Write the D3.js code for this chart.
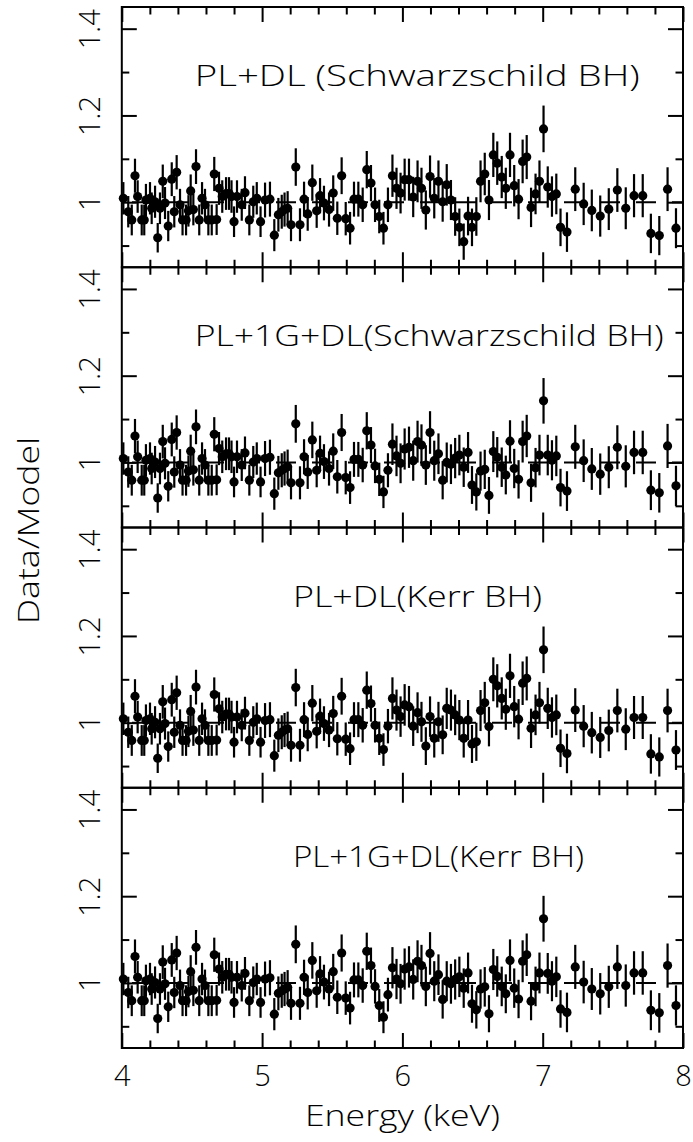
<!DOCTYPE html>
<html>
<head>
<meta charset="utf-8">
<script src="https://cdn.jsdelivr.net/npm/d3@7"></script>
<style>
  html, body { margin: 0; padding: 0; background: #fff; }
  svg { display: block; }
</style>
</head>
<body>
<div id="chart"></div>
<script>
// ---------------- data ----------------
const energy = [
  4.011, 4.046, 4.071, 4.094, 4.113, 4.142, 4.160, 4.172, 4.201, 4.213,
  4.237, 4.256, 4.272, 4.292, 4.308, 4.331, 4.356, 4.374, 4.391, 4.415,
  4.433, 4.458, 4.475, 4.491, 4.510, 4.529, 4.552, 4.572, 4.593, 4.617,
  4.641, 4.659, 4.676, 4.693, 4.716, 4.743, 4.764, 4.782, 4.800, 4.821,
  4.855, 4.878, 4.909, 4.937, 4.962, 4.989, 5.021, 5.056, 5.087, 5.116,
  5.140, 5.160, 5.182, 5.206, 5.240, 5.270, 5.299, 5.325, 5.358, 5.389,
  5.413, 5.441, 5.477, 5.507, 5.536, 5.567, 5.596, 5.627, 5.655, 5.686,
  5.717, 5.746, 5.776, 5.805, 5.835, 5.865, 5.897, 5.929, 5.958, 5.987,
  6.016, 6.047, 6.077, 6.108, 6.136, 6.167, 6.197, 6.227, 6.257, 6.287,
  6.316, 6.346, 6.376, 6.406, 6.437, 6.468, 6.496, 6.527, 6.557, 6.587,
  6.617, 6.648, 6.676, 6.708, 6.737, 6.767, 6.797, 6.828, 6.857, 6.886,
  6.917, 6.949, 6.977, 7.006, 7.036, 7.066, 7.097, 7.127, 7.173, 7.232,
  7.292, 7.350, 7.410, 7.471, 7.532, 7.592, 7.651, 7.713, 7.771, 7.831,
  7.890, 7.950
];

// PL+DL (Schwarzschild BH)
const ratioP1 = [
  1.009, 0.978, 0.959, 1.061, 1.013, 0.959, 0.959, 1.005, 1.009, 0.986,
  1.001, 0.918, 0.986, 1.048, 0.998, 0.945, 1.053, 0.978, 1.069, 0.994,
  0.959, 0.959, 0.980, 1.026, 0.983, 1.082, 0.959, 1.009, 0.994, 0.959,
  0.959, 1.065, 0.960, 1.032, 1.013, 1.020, 1.020, 1.013, 0.955, 1.013,
  0.994, 1.022, 0.959, 1.001, 1.009, 0.955, 1.005, 1.007, 0.924, 0.971,
  0.978, 0.983, 0.986, 0.948, 1.081, 0.948, 1.007, 0.973, 1.045, 0.980,
  1.015, 0.998, 0.983, 1.021, 0.963, 1.061, 0.962, 0.940, 1.007, 1.007,
  0.994, 1.075, 1.044, 0.994, 0.967, 0.940, 0.994, 1.061, 1.032, 1.021,
  1.052, 1.052, 1.012, 1.048, 1.032, 0.982, 1.059, 1.009, 1.048, 1.001,
  1.040, 1.005, 0.967, 0.942, 0.909, 0.968, 0.942, 0.967, 1.048, 1.065,
  1.005, 1.109, 1.090, 1.058, 1.032, 1.109, 1.038, 1.007, 1.094, 1.104,
  0.988, 1.019, 1.048, 1.169, 1.035, 1.013, 1.019, 0.942, 0.931, 1.030,
  0.996, 0.981, 0.968, 0.984, 1.028, 0.986, 1.015, 1.015, 0.928, 0.923,
  1.030, 0.940
];

// PL+1G+DL (Schwarzschild BH)
const ratioP2 = [
  1.009, 0.978, 0.959, 1.061, 1.013, 0.959, 0.959, 1.005, 1.009, 0.986,
  1.001, 0.918, 0.986, 1.048, 0.998, 0.945, 1.053, 0.978, 1.069, 0.994,
  0.959, 0.959, 0.980, 1.026, 0.983, 1.082, 0.959, 1.009, 0.994, 0.959,
  0.959, 1.065, 0.960, 1.032, 1.013, 1.020, 1.020, 1.013, 0.955, 1.013,
  0.994, 1.022, 0.959, 1.001, 1.009, 0.955, 1.009, 1.012, 0.928, 0.976,
  0.982, 0.986, 0.990, 0.953, 1.089, 0.953, 1.013, 0.978, 1.052, 0.982,
  1.021, 1.002, 0.986, 1.026, 0.967, 1.069, 0.965, 0.942, 1.007, 1.007,
  0.994, 1.073, 1.040, 0.992, 0.961, 0.932, 0.982, 1.042, 1.015, 0.998,
  1.031, 1.035, 1.004, 1.048, 1.040, 0.994, 1.069, 1.004, 1.020, 0.959,
  1.000, 0.996, 1.010, 1.017, 0.989, 1.023, 0.948, 0.932, 0.980, 0.984,
  0.924, 1.025, 1.012, 0.989, 0.971, 1.049, 0.986, 0.961, 1.048, 1.061,
  0.953, 0.988, 1.017, 1.142, 1.017, 1.005, 1.015, 0.942, 0.934, 1.036,
  1.004, 0.985, 0.973, 0.989, 1.035, 0.991, 1.023, 1.023, 0.936, 0.930,
  1.038, 0.946
];

// PL+DL (Kerr BH)
const ratioP3 = [
  1.009, 0.978, 0.959, 1.061, 1.013, 0.959, 0.959, 1.005, 1.009, 0.986,
  1.001, 0.918, 0.986, 1.048, 0.998, 0.945, 1.053, 0.978, 1.069, 0.994,
  0.959, 0.959, 0.980, 1.026, 0.983, 1.082, 0.959, 1.009, 0.994, 0.959,
  0.959, 1.065, 0.960, 1.032, 1.013, 1.020, 1.020, 1.013, 0.955, 1.013,
  0.994, 1.022, 0.959, 1.001, 1.009, 0.955, 1.005, 1.007, 0.924, 0.971,
  0.978, 0.983, 0.986, 0.948, 1.081, 0.948, 1.007, 0.973, 1.045, 0.980,
  1.015, 0.998, 0.983, 1.021, 0.963, 1.061, 0.962, 0.940, 1.007, 1.007,
  0.994, 1.075, 1.044, 0.994, 0.964, 0.938, 0.992, 1.056, 1.029, 1.014,
  1.041, 1.037, 0.992, 1.023, 1.002, 0.946, 1.014, 0.964, 1.002, 0.972,
  1.033, 1.029, 1.018, 1.006, 0.964, 1.006, 0.951, 0.956, 1.028, 1.046,
  0.991, 1.100, 1.085, 1.056, 1.031, 1.108, 1.037, 1.008, 1.091, 1.102,
  0.987, 1.018, 1.046, 1.168, 1.033, 1.012, 1.018, 0.941, 0.929, 1.029,
  0.992, 0.977, 0.966, 0.982, 1.028, 0.985, 1.012, 1.012, 0.928, 0.921,
  1.028, 0.937
];

// PL+1G+DL (Kerr BH)
const ratioP4 = [
  1.009, 0.978, 0.959, 1.061, 1.013, 0.959, 0.959, 1.005, 1.009, 0.986,
  1.001, 0.918, 0.986, 1.048, 0.998, 0.945, 1.053, 0.978, 1.069, 0.994,
  0.959, 0.959, 0.980, 1.026, 0.983, 1.082, 0.959, 1.009, 0.994, 0.959,
  0.959, 1.065, 0.960, 1.032, 1.013, 1.020, 1.020, 1.013, 0.955, 1.013,
  0.994, 1.022, 0.959, 1.001, 1.009, 0.955, 1.009, 1.012, 0.928, 0.976,
  0.982, 0.986, 0.990, 0.953, 1.089, 0.953, 1.013, 0.978, 1.052, 0.982,
  1.021, 1.002, 0.986, 1.026, 0.967, 1.069, 0.965, 0.942, 1.007, 1.007,
  0.994, 1.073, 1.040, 0.992, 0.948, 0.921, 0.973, 1.035, 1.009, 0.998,
  1.032, 1.037, 1.008, 1.050, 1.040, 0.992, 1.068, 1.004, 1.019, 0.962,
  1.004, 0.998, 1.008, 1.014, 0.988, 1.023, 0.952, 0.938, 0.986, 0.991,
  0.929, 1.031, 1.015, 0.992, 0.975, 1.052, 0.988, 0.963, 1.050, 1.065,
  0.958, 0.992, 1.023, 1.148, 1.022, 1.004, 1.014, 0.940, 0.932, 1.037,
  1.002, 0.986, 0.975, 0.991, 1.037, 0.994, 1.023, 1.023, 0.937, 0.931,
  1.040, 0.948
];

// relative 1-sigma error of the ratio, by energy band
const errBandUpTo = [5.0, 5.9, 7.15, 8.0];
const errBandRel  = [0.037, 0.040, 0.046, 0.049];

const panelTitles = [
  "PL+DL (Schwarzschild BH)",
  "PL+1G+DL(Schwarzschild BH)",
  "PL+DL(Kerr BH)",
  "PL+1G+DL(Kerr BH)"
];
const panelSeries = [ratioP1, ratioP2, ratioP3, ratioP4];

const xMajorTicks = [4, 5, 6, 7, 8];
const xMinorTicks = [4.2, 4.4, 4.6, 4.8, 5.2, 5.4, 5.6, 5.8, 6.2, 6.4, 6.6, 6.8, 7.2, 7.4, 7.6, 7.8];
const yMajorTicks = [1, 1.2, 1.4];
const yMinorTicks = [0.9, 1.1, 1.3];
const xDomain = [4, 8];
const yDomain = [0.85, 1.45];
const xLabel = "Energy (keV)";
const yLabel = "Data/Model";

// ---------------- layout ----------------
const W = 693, H = 1142;
const L = 121.8, R = 683, T = 7, B = 1048;
const nP = 4;
const pH = (B - T) / nP;
const FONT = "'Open Sans', 'DejaVu Sans', sans-serif";
const FW = 300;
const FS = 29;
const MAJ = 15, MIN = 7.5;

const svg = d3.select("#chart").append("svg")
  .attr("width", W).attr("height", H)
  .style("background", "#fff");

const x = d3.scaleLinear().domain(xDomain).range([L, R]);

function relErr(e) {
  const i = errBandUpTo.findIndex(u => e <= u);
  return errBandRel[i < 0 ? errBandRel.length - 1 : i];
}

function styleAxis(g) {
  g.select(".domain").remove();
  g.selectAll(".tick line").attr("stroke", "#000").attr("stroke-width", 2);
  g.selectAll("text").attr("font-family", FONT).attr("font-weight", FW)
    .attr("font-size", FS).attr("fill", "#000");
}

panelSeries.forEach((vals, p) => {
  const top = T + p * pH, bot = T + (p + 1) * pH;
  const y = d3.scaleLinear().domain(yDomain).range([bot, top]);
  const g = svg.append("g");

  // ratio = 1 reference line (dashed)
  g.append("line")
    .attr("x1", x(xDomain[0])).attr("x2", x(xDomain[1]))
    .attr("y1", y(1)).attr("y2", y(1))
    .attr("stroke", "#000").attr("stroke-width", 2)
    .attr("stroke-dasharray", "20,16").attr("stroke-dashoffset", 25.8);

  const pts = energy.map((e, i) => ({ e, v: vals[i], err: vals[i] * relErr(e) }));

  g.selectAll("line.err").data(pts).enter().append("line")
    .attr("class", "err")
    .attr("x1", d => x(d.e)).attr("x2", d => x(d.e))
    .attr("y1", d => y(d.v - d.err)).attr("y2", d => y(d.v + d.err))
    .attr("stroke", "#000").attr("stroke-width", 2.2);

  g.selectAll("circle").data(pts).enter().append("circle")
    .attr("cx", d => x(d.e)).attr("cy", d => y(d.v))
    .attr("r", 4.6).attr("fill", "#000");

  // axes (inward ticks on all four sides)
  const isLast = p === nP - 1;
  const xb = g.append("g").attr("transform", `translate(0,${bot})`)
    .call(d3.axisBottom(x).tickValues(xMajorTicks).tickSize(-MAJ).tickPadding(17)
      .tickFormat(isLast ? d3.format("") : () => ""));
  styleAxis(xb);
  g.append("g").attr("transform", `translate(0,${bot})`)
    .call(d3.axisBottom(x).tickValues(xMinorTicks).tickSize(-MIN).tickFormat(() => ""))
    .call(styleAxis);
  g.append("g").attr("transform", `translate(0,${top})`)
    .call(d3.axisTop(x).tickValues(xMajorTicks).tickSize(-MAJ).tickFormat(() => ""))
    .call(styleAxis);
  g.append("g").attr("transform", `translate(0,${top})`)
    .call(d3.axisTop(x).tickValues(xMinorTicks).tickSize(-MIN).tickFormat(() => ""))
    .call(styleAxis);

  const yl = g.append("g").attr("transform", `translate(${L},0)`)
    .call(d3.axisLeft(y).tickValues(yMajorTicks).tickSize(-MAJ).tickFormat(d3.format("")));
  styleAxis(yl);
  yl.selectAll("text")
    .attr("x", 0).attr("y", 0).attr("dy", 0)
    .attr("text-anchor", "middle")
    .attr("transform", "translate(-21.5,0) rotate(-90)");
  g.append("g").attr("transform", `translate(${L},0)`)
    .call(d3.axisLeft(y).tickValues(yMinorTicks).tickSize(-MIN).tickFormat(() => ""))
    .call(styleAxis);
  g.append("g").attr("transform", `translate(${R},0)`)
    .call(d3.axisRight(y).tickValues(yMajorTicks).tickSize(-MAJ).tickFormat(() => ""))
    .call(styleAxis);
  g.append("g").attr("transform", `translate(${R},0)`)
    .call(d3.axisRight(y).tickValues(yMinorTicks).tickSize(-MIN).tickFormat(() => ""))
    .call(styleAxis);

  // frame
  g.append("rect")
    .attr("x", L).attr("y", top).attr("width", R - L).attr("height", bot - top)
    .attr("fill", "none").attr("stroke", "#000").attr("stroke-width", 2);

  // panel title
  const titleX = p < 2 ? x(4.52) : x(5.22);
  const titleLen = [445, 469, 249, 291][p];
  g.append("text")
    .attr("x", titleX).attr("y", top + 79)
    .attr("font-family", FONT).attr("font-weight", FW).attr("font-size", FS)
    .attr("textLength", titleLen).attr("lengthAdjust", "spacingAndGlyphs")
    .attr("fill", "#000")
    .text(panelTitles[p]);
});

// axis titles
svg.append("text")
  .attr("x", (L + R) / 2).attr("y", 1126)
  .attr("text-anchor", "middle")
  .attr("font-family", FONT).attr("font-weight", FW).attr("font-size", FS)
  .attr("textLength", 195).attr("lengthAdjust", "spacingAndGlyphs")
  .text(xLabel);

svg.append("text")
  .attr("transform", `translate(39,${(T + B) / 2 + 3}) rotate(-90)`)
  .attr("text-anchor", "middle")
  .attr("font-family", FONT).attr("font-weight", FW).attr("font-size", FS)
  .attr("textLength", 187).attr("lengthAdjust", "spacingAndGlyphs")
  .text(yLabel);
</script>
</body>
</html>
